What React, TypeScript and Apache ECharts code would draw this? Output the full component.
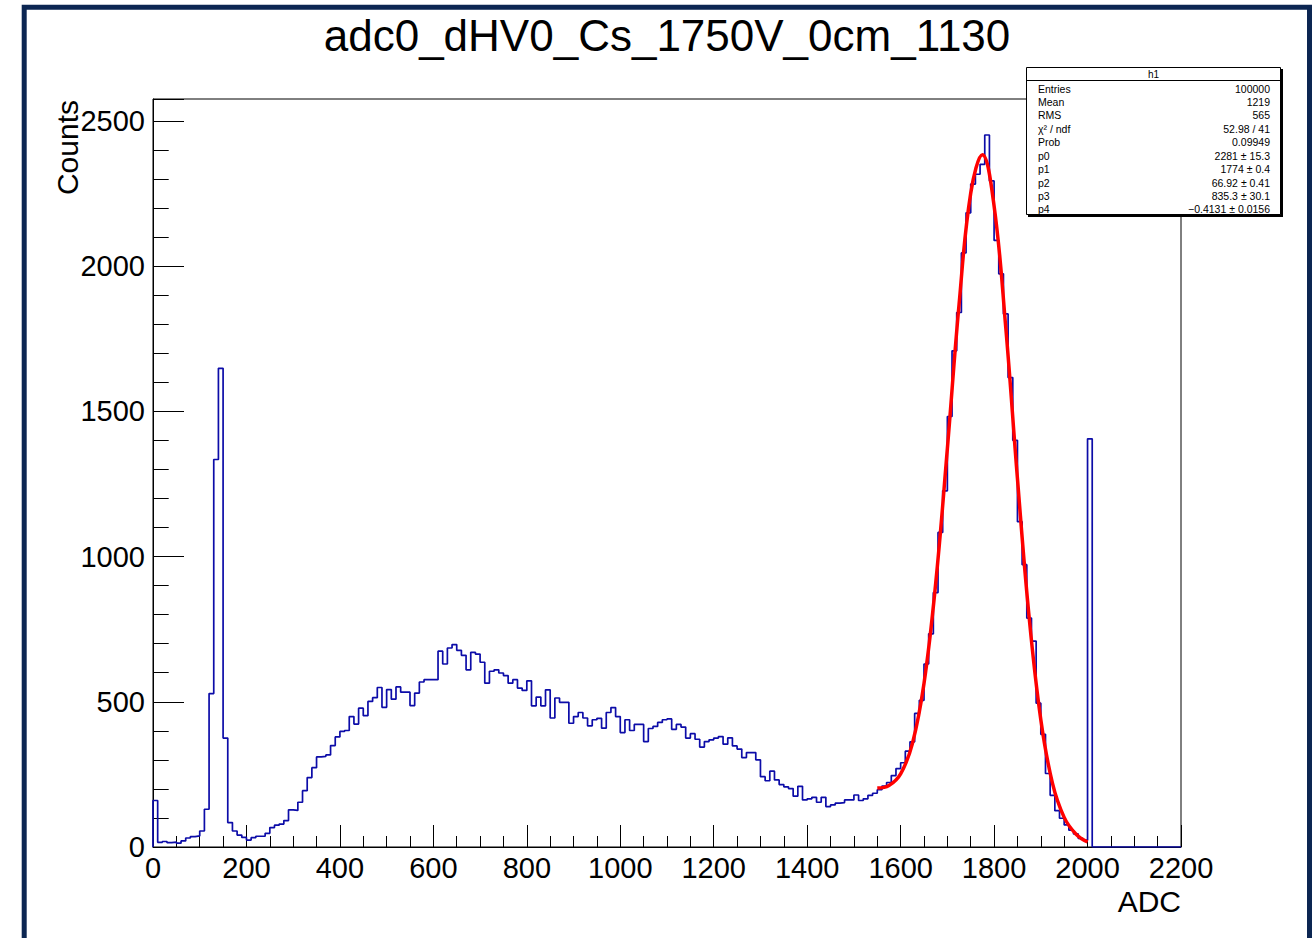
import React, { useEffect, useRef } from 'react';
import * as echarts from 'echarts';

// ---- data ----
const BIN_WIDTH = 10; // ADC per bin, range 0..2200
const binCounts = [
  160, 16, 19, 15, 17, 13, 21, 31, 36, 38,
  55, 130, 528, 1334, 1648, 375, 84, 55, 41, 33,
  24, 32, 37, 37, 47, 67, 75, 79, 91, 128,
  126, 154, 194, 239, 273, 310, 312, 317, 349, 379,
  398, 401, 449, 423, 478, 452, 501, 514, 549, 481,
  542, 509, 551, 533, 533, 487, 530, 568, 576, 576,
  576, 674, 630, 685, 697, 677, 660, 610, 670, 664,
  636, 564, 605, 610, 599, 590, 564, 576, 547, 539,
  572, 486, 516, 486, 541, 444, 513, 498, 498, 426,
  449, 463, 444, 417, 438, 443, 409, 463, 480, 449,
  394, 438, 401, 422, 422, 363, 408, 415, 429, 438,
  441, 405, 422, 413, 375, 390, 371, 344, 363, 369,
  375, 380, 354, 376, 348, 337, 308, 325, 325, 300,
  242, 228, 261, 231, 215, 207, 201, 175, 209, 162,
  166, 171, 154, 171, 139, 145, 151, 153, 162, 162,
  179, 160, 166, 178, 185, 197, 210, 222, 246, 270,
  290, 330, 362, 460, 505, 630, 734, 876, 1083, 1226,
  1482, 1708, 1840, 2045, 2183, 2282, 2316, 2350, 2451, 2293,
  2088, 1973, 1835, 1616, 1400, 1120, 972, 788, 709, 495,
  388, 253, 178, 125, 99, 76, 58, 45, 30, 24,
  1405, 0, 0, 0, 0, 0, 0, 0, 0, 0,
  0, 0, 0, 0, 0, 0, 0, 0, 0, 0,
];

const fitX = [1550, 1575, 1600, 1625, 1650, 1675, 1700, 1725, 1750, 1775, 1800, 1825, 1850, 1875, 1900, 1925, 1950, 1975, 2000];
const fitY = [203, 212, 252, 355, 563, 907, 1371, 1867, 2251, 2383, 2207, 1788, 1268, 791, 438, 219, 102, 45, 17];

const xTickValues = [0, 200, 400, 600, 800, 1000, 1200, 1400, 1600, 1800, 2000, 2200];
const yTickValues = [0, 500, 1000, 1500, 2000, 2500];
const xRange = [0, 2200];
const yRange = [0, 2575];

const titleText = 'adc0_dHV0_Cs_1750V_0cm_1130';
const xTitle = 'ADC';
const yTitle = 'Counts';
const statHeader = 'h1';
const statLabels = ['Entries', 'Mean', 'RMS', 'χ² / ndf', 'Prob', 'p0', 'p1', 'p2', 'p3', 'p4'];
const statValues = ['100000', '1219', '565', '52.98 / 41', '0.09949', '2281 ± 15.3', '1774 ± 0.4', '66.92 ± 0.41', '835.3 ± 30.1', '−0.4131 ± 0.0156'];

const FONT = '"Liberation Sans", Arial, Helvetica, sans-serif';

export default function App() {
  const ref = useRef<HTMLDivElement>(null);

  useEffect(() => {
    if (!ref.current) return;
    const chart = echarts.init(ref.current, null, { renderer: 'svg' });

    const histData: number[][] = [[0, 0]];
    binCounts.forEach((c, i) => histData.push([i * BIN_WIDTH, c]));
    histData.push([binCounts.length * BIN_WIDTH, binCounts[binCounts.length - 1]]);
    const fitData = fitX.map((x, i) => [x, fitY[i]]);

    const txt = (text: string, x: number, y: number, size: number, align: string, extra: any = {}) => ({
      type: 'text',
      x,
      y,
      silent: true,
      z: 100,
      ...extra,
      style: {
        text,
        fontSize: size,
        fontFamily: FONT,
        fill: '#000',
        align,
        textAlign: align,
        verticalAlign: 'middle',
        textVerticalAlign: 'middle',
      },
    });

    const statElems: any[] = [
      { type: 'rect', z: 90, shape: { x: 1028, y: 69, width: 255, height: 148 }, style: { fill: '#000' } },
      { type: 'rect', z: 91, shape: { x: 1026.5, y: 67.5, width: 254, height: 147 }, style: { fill: '#fff', stroke: '#000', lineWidth: 1 } },
      { type: 'line', z: 92, shape: { x1: 1026.5, y1: 80.5, x2: 1280.5, y2: 80.5 }, style: { stroke: '#000', lineWidth: 1 } },
      txt(statHeader, 1153.5, 74, 10, 'center'),
    ];
    statLabels.forEach((lab, i) => {
      const y = 88.5 + 13.44 * i;
      statElems.push(txt(lab, 1038, y, 10.5, 'left'));
      statElems.push(txt(statValues[i], 1270, y, 10.5, 'right'));
    });

    chart.setOption({
      animation: false,
      backgroundColor: '#fff',
      grid: { left: 153, top: 99, right: 132, bottom: 91, show: true, borderColor: '#000', borderWidth: 1, backgroundColor: 'transparent' },
      xAxis: {
        type: 'value',
        min: xRange[0],
        max: xRange[1],
        interval: 200,
        axisLine: { show: true, onZero: false, lineStyle: { color: '#000', width: 1 } },
        axisTick: { show: true, inside: true, length: 22, lineStyle: { color: '#000', width: 1 } },
        minorTick: { show: true, splitNumber: 4, length: 11, lineStyle: { color: '#000', width: 1 } },
        splitLine: { show: false },
        axisLabel: {
          show: true,
          margin: 6,
          fontSize: 29,
          fontFamily: FONT,
          color: '#000',
          formatter: (v: number) => (xTickValues.includes(v) ? String(v) : ''),
        },
      },
      yAxis: {
        type: 'value',
        min: yRange[0],
        max: yRange[1],
        interval: 500,
        axisLine: { show: true, onZero: false, lineStyle: { color: '#000', width: 1 } },
        axisTick: { show: true, inside: true, length: 31, lineStyle: { color: '#000', width: 1 } },
        minorTick: { show: true, splitNumber: 5, length: 15.7, lineStyle: { color: '#000', width: 1 } },
        splitLine: { show: false },
        axisLabel: {
          show: true,
          margin: 8,
          fontSize: 29,
          fontFamily: FONT,
          color: '#000',
          formatter: (v: number) => (yTickValues.includes(v) ? String(v) : ''),
        },
      },
      series: [
        {
          name: 'h1',
          type: 'line',
          data: histData,
          step: 'end',
          symbol: 'none',
          showSymbol: false,
          clip: true,
          lineStyle: { color: '#0c0ca8', width: 1.7 },
          z: 2,
        },
        {
          name: 'fit',
          type: 'line',
          data: fitData,
          smooth: 0.4,
          symbol: 'none',
          showSymbol: false,
          clip: true,
          lineStyle: { color: '#ff0000', width: 3.5 },
          z: 3,
        },
      ],
      graphic: [
        { type: 'rect', z: 80, silent: true, shape: { x: 24.2, y: 7.2, width: 1285.3, height: 1100 }, style: { fill: 'none', stroke: '#0c2652', lineWidth: 5 } },
        txt(titleText, 667, 35, 44, 'center'),
        txt(xTitle, 1181, 901, 30, 'right'),
        txt(yTitle, 67, 100, 30, 'right', { rotation: Math.PI / 2 }),
        ...statElems,
      ],
    });

    return () => chart.dispose();
  }, []);

  return (
    <div
      ref={ref}
      style={{ position: 'fixed', left: 0, top: 0, width: 1313, height: 938, background: '#fff' }}
    />
  );
}
